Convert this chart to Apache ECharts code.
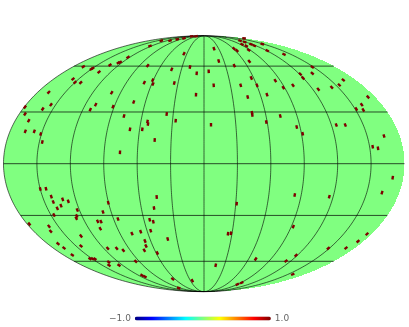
<!DOCTYPE html>
<html><head><meta charset="utf-8">
<style>html,body{margin:0;padding:0;background:#fff}#c{width:409px;height:327px}</style>
<script src="https://cdn.jsdelivr.net/npm/echarts@6/dist/echarts.min.js"></script>
</head><body><div id="c"></div>
<script>
// Mollweide map units: easting spans +-A, northing spans +-B
var A = 200.5, B = 128;
var meridians = [-180,-150,-120,-90,-60,-30,0,30,60,90,120,150];
var parallels = [-60,-30,0,30,60];
var spotValue = 1.0;
var spotEast = [
-120.7,-112.7,-111.3,-105,-94,-85.7,-83.7,-76,-54,-42.7,-34,-26.7,-20,-12.3,-8,-20,-32.3,-14,-7.3,-56.3,-131,-129,-123.3,-155.3,-92.3,-59.7,-51,-51.3,-29.7,-8,-70.3,-179,-161.3,-153,-108.3,-113.7,-91,-179,-175.3,-178.7,-169.7,-163.3,-161.7,-80,-37.3,-28.3,-56,-56.5,-74,-61.7,-49.3,-84,
10,30,33,14.7,30.3,4.7,45.3,44.7,40,36,40.7,38,42.3,47,50.3,58.3,63.3,80,9.7,36.7,47.3,53,71.3,79.3,89,43.7,63,96.3,99,108.3,108.3,114.3,127.7,135.3,139.3,157.7,164,152.3,159.3,7,48.3,48,62.3,76.3,92.7,98.7,132.3,141.3,180,168.7,174,
-163.7,-158,-152.7,-150.7,-146.7,-143,-141.3,-135.7,-150,-126.7,-127.3,-127.7,-174.7,-155,-153.3,-146,-140,-131.7,-123,-123,-114,-109,-111.5,-106.3,-103,-103.7,-101,-95.7,-86,-96.3,-87.3,-80.7,-95.3,-95,-85,-72,-63.3,-53.3,-54.3,-50.7,-50,-47.3,-36.3,-59,-58,-59.7,-46.7,-68.3,-62,-59,-31.3,-25.3,-11.7,
32.7,24,27,90.7,125.3,178,188.7,89.3,163,154,142,124.3,92,82,51.7,11.7,88.7,33.3,37.7
];
var spotNorth = [
97,94.7,95.5,91.7,98.7,101,101.5,106.4,117.7,123,123,124.4,125.4,127.4,127.4,110,94.4,96.7,90.4,98,84.7,81.4,81,71.4,71,81,79.7,83.5,80.7,69,61.7,56.7,54.7,59,59,54,57,49.7,43,32.4,32.4,29.7,21.7,47.7,49.7,43,39.7,42.2,34.4,34.4,23.7,11.4,
115,115,113,102.7,98,92.4,102.4,113.7,125.4,123,121.7,119.4,117.7,119.4,118,119.7,113,109.4,78.4,78.4,85.7,78.4,83,76,78.4,66.7,69,89.7,85.7,96.7,90.4,74.4,76.4,78.7,83.7,59,66.7,54.7,53.7,39,48.7,51,41.7,47.7,36.7,30,38.7,38.7,27.7,17,15.4,
-25.3,-25,-33,-38.3,-44.6,-42,-35.6,-37.6,-51.3,-46.3,-52.3,-54.6,-60.3,-62.6,-67.6,-80,-84.3,-91.3,-72.3,-82.3,-95,-95.3,-95,-57.6,-58,-65,-48.3,-39,-55.3,-84.6,-84.6,-86.6,-98.3,-101.6,-101.6,-70,-68,-67,-56,-58,-44.3,-33.3,-75.3,-77.3,-82.3,-86.6,-89.3,-97.7,-111.6,-113,-115.3,-124.3,-117,
-40,-70,-69.6,-31.3,-33,-29,-14,-63,-70.3,-77.6,-84.3,-84.6,-91.7,-97.3,-95.3,-101.6,-110.6,-120.6,-119
];
var barLabels = ['1.0','\u22121.0'];
var jet = ['#00007f','#0000ff','#007fff','#00ffff','#7fff7f','#ffff00','#ff7f00','#ff0000','#7f0000'];

function auxAngle(latDeg){
  var phi = latDeg*Math.PI/180, t = phi;
  for (var i=0;i<30;i++){ t -= (2*t+Math.sin(2*t)-Math.PI*Math.sin(phi))/(2+2*Math.cos(2*t)); }
  return t;
}
var lineSeries = [];
function lineS(data,op){
  return {type:'line',data:data,showSymbol:false,silent:true,z:3,animation:false,
    lineStyle:{color:'#000',width:1,opacity:op}};
}
meridians.forEach(function(m){
  var d=[];
  for (var k=-90;k<=90;k++){
    var t=Math.PI*k/180;
    d.push([A*(m/180)*Math.cos(t),B*Math.sin(t)]);
  }
  lineSeries.push(lineS(d,0.6));
});
parallels.forEach(function(p){
  var t=auxAngle(p), w=A*Math.cos(t), y=B*Math.sin(t);
  lineSeries.push(lineS([[-w,y],[w,y]],0.7));
});
var spotData = spotEast.map(function(x,i){
  var y=spotNorth[i], s=Math.max(-0.999,Math.min(0.999,y/B)), c=Math.sqrt(1-s*s);
  var dx=-x*s/c, dy=B*c;
  return {value:[x,y,spotValue],symbolRotate:Math.atan2(-dx,dy)*180/Math.PI};
});
var chart = echarts.init(document.getElementById('c'),null,{renderer:'canvas'});
chart.setOption({
  animation:false,
  backgroundColor:'#fff',
  grid:{left:3.5,top:35.7,width:2*A,height:2*B,containLabel:false},
  xAxis:{type:'value',min:-A,max:A,show:false},
  yAxis:{type:'value',min:-B,max:B,show:false},
  visualMap:{
    type:'continuous',orient:'horizontal',min:-1,max:1,calculable:false,
    seriesIndex:lineSeries.length+1,dimension:2,
    itemWidth:4,itemHeight:136,left:94,top:299,
    text:barLabels,textGap:4,
    textStyle:{color:'#666',fontFamily:'DejaVu Sans',fontSize:9},
    inRange:{color:jet},
    realtime:false,hoverLink:false
  },
  series:[{
    type:'custom',silent:true,z:1,coordinateSystem:'cartesian2d',
    data:[[0,0]],
    renderItem:function(params,api){
      var right=[],left=[];
      var top=api.coord([0,B])[1], bot=api.coord([0,-B])[1];
      for (var py=Math.floor(top);py<Math.ceil(bot);py++){
        var yd=(api.coord([0,0])[1]-(py+0.5))*(B/((bot-top)/2));
        var r=Math.max(0,1-(yd/B)*(yd/B));
        var xp=api.coord([A*Math.sqrt(r),0])[0];
        var xl=api.coord([-A*Math.sqrt(r),0])[0];
        right.push([Math.round(xp),py],[Math.round(xp),py+1]);
        left.unshift([xl,py+0.5]);
      }
      return {type:'polygon',shape:{points:right.concat(left)},style:{fill:'#80ff80'}};
    }
  }].concat(lineSeries,[{
    type:'scatter',symbol:'rect',symbolSize:[2.4,3.6],data:spotData,z:5,silent:true,
    itemStyle:{opacity:1}
  }])
});
</script></body></html>
